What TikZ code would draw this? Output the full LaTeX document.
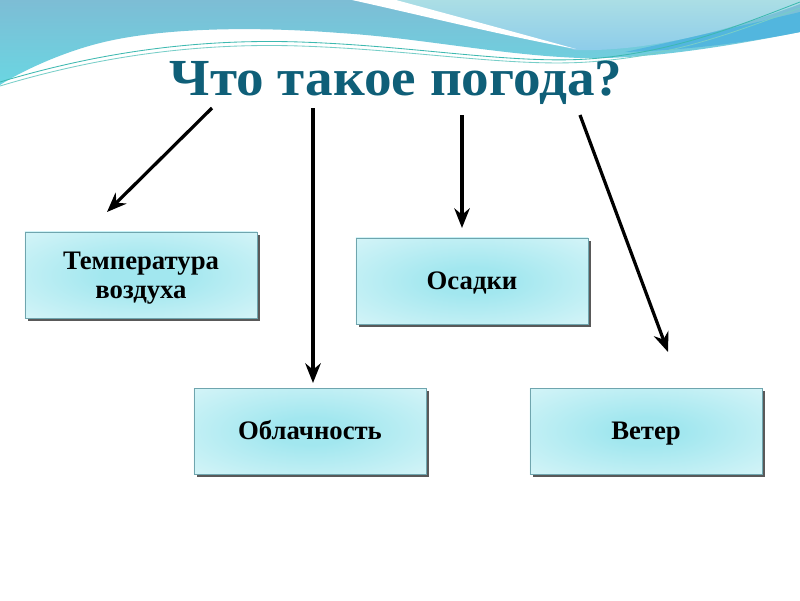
\documentclass[tikz,border=0pt]{standalone}
\usepackage{fontspec}
\setmainfont{Liberation Serif}
\usepackage{xcolor}
\usetikzlibrary{arrows.meta,shadows}
\definecolor{titleteal}{HTML}{0F5F78}
\definecolor{wavedark}{HTML}{7DBDD5}
\definecolor{wavemid}{HTML}{6AD6E2}
\definecolor{wavelight}{HTML}{ABDEE5}
\definecolor{wavesky}{HTML}{8CCCEA}
\definecolor{waveband}{HTML}{52B6DE}
\definecolor{waveline}{HTML}{3DB9B0}
\definecolor{boxin}{HTML}{A2E7EF}
\definecolor{boxout}{HTML}{EEFBFC}
\definecolor{boxline}{HTML}{6FA5AE}
\pgfdeclareradialshading{boxglow}{\pgfpoint{0bp}{0bp}}{color(0bp)=(boxin); color(8bp)=(boxin); color(50bp)=(boxout); color(72bp)=(boxout)}

\begin{document}
\begin{tikzpicture}[x=0.025cm, y=-0.025cm, every node/.style={align=center, font=\bfseries\fontsize{19}{21}\selectfont},
	topic/.style={draw=boxline, line width=0.6pt, minimum width=5.8cm, minimum height=2.15cm, shading=boxglow, text height=12.5pt, text depth=0pt, drop shadow={shadow xshift=2pt, shadow yshift=-2pt, fill=black, opacity=0.65}},
	pointer/.style={line width=2.3pt, -{Stealth[length=14pt, width=11pt]}}]
				\useasboundingbox (0,0) rectangle (800,600);
				\fill[white] (0,0) rectangle (800,600);
				\shade[top color=wavedark, bottom color=wavemid] (0,0) -- (800,0) -- (800,32) .. controls (740,44) and (650,60) .. (580,58) .. controls (500,55) and (420,38) .. (340,33) .. controls (250,26) and (160,28) .. (100,43) .. controls (60,53) and (20,72) .. (0,85) -- cycle;
				\shade[top color=wavelight, bottom color=wavesky] (392,0) -- (800,0) -- (800,4) .. controls (730,30) and (650,52) .. (575,50) .. controls (520,35) and (450,15) .. (392,0) -- cycle;
				\fill[waveband] (800,12) .. controls (750,24) and (680,40) .. (625,52) .. controls (690,50) and (750,42) .. (800,32) -- cycle;
				\fill[white] (352,0) .. controls (420,15) and (500,35) .. (576,49) .. controls (500,28) and (440,12) .. (396,0) -- cycle;
				\draw[waveline, line width=0.6pt] (0,82) .. controls (80,58) and (180,38) .. (300,42) .. controls (420,46) and (520,66) .. (600,58) .. controls (680,50) and (740,25) .. (800,2);
				\draw[waveline!70, line width=0.6pt] (0,86) .. controls (80,62) and (180,42) .. (300,46) .. controls (420,50) and (520,69) .. (600,61) .. controls (680,54) and (740,30) .. (800,8);

				\node (title) at (396,95) [anchor=base, xscale=1.06, text=titleteal, font=\bfseries\fontsize{37}{40}\selectfont] {Что такое погода?};
				\node (temp) at (141,275) [topic, text height=33.5pt] {Температура\\воздуха};
				\node (osadki) at (472,281) [topic] {Осадки};
				\node (oblach) at (310,431) [topic] {Облачность};
				\node (veter) at (646,431) [topic] {Ветер};

				\coordinate (a1s) at (212,108);
				\coordinate (a1e) at (107,212);
				\coordinate (a2s) at (313,108);
				\coordinate (a2e) at (313,383);
				\coordinate (a3s) at (462,115);
				\coordinate (a3e) at (462,228);
				\coordinate (a4s) at (580,115);
				\coordinate (a4e) at (668,352);

				\draw[pointer] (a1s) -- (a1e);
				\draw[pointer] (a2s) -- (a2e);
				\draw[pointer] (a3s) -- (a3e);
				\draw[pointer] (a4s) -- (a4e);
			\end{tikzpicture}
\end{document}
